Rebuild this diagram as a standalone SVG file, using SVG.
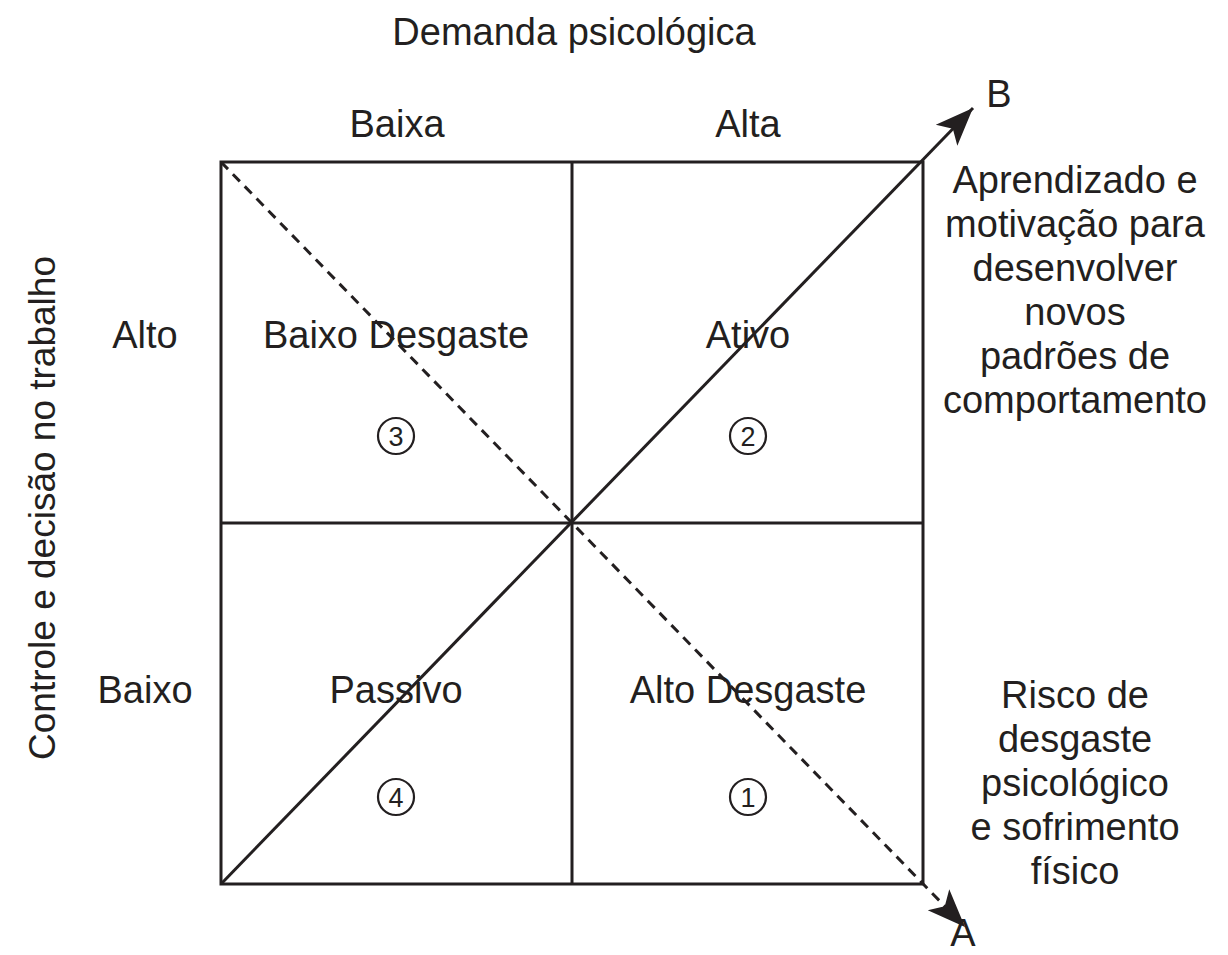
<svg xmlns="http://www.w3.org/2000/svg" width="1228" height="955" viewBox="0 0 1228 955">
<style>
text{font-family:"Liberation Sans",Arial,sans-serif;font-size:38px;fill:#231f20;text-anchor:middle}
.ln{stroke:#231f20;stroke-width:3;fill:none}
.dash{stroke-dasharray:10 7}
.num{font-size:27px}
.vert{font-size:37px}
circle{fill:none;stroke:#231f20;stroke-width:2.2}
</style>
<defs>
<marker id="ah" markerUnits="userSpaceOnUse" markerWidth="40" markerHeight="32" viewBox="0 -16 40 32" refX="38" refY="0" orient="auto">
<path d="M0,-15 L38,0 L0,15 L9,0 Z" fill="#231f20"/>
</marker>
</defs>
<g id="grid">
<rect class="ln" x="221" y="162" width="702" height="722"/>
<line class="ln" x1="572" y1="162" x2="572" y2="884"/>
<line class="ln" x1="221" y1="523" x2="923" y2="523"/>
</g>
<g id="connectors">
<line class="ln" x1="221" y1="884" x2="973" y2="108" marker-end="url(#ah)"/>
<line class="ln dash" x1="221" y1="162" x2="965" y2="927" marker-end="url(#ah)"/>
</g>
<g id="axis-labels">
<text x="574" y="45">Demanda psicológica</text>
<text x="397" y="137">Baixa</text>
<text x="748" y="137">Alta</text>
<text x="145" y="348">Alto</text>
<text x="145" y="703">Baixo</text>
<text class="vert" transform="translate(55,508) rotate(-90)">Controle e decisão no trabalho</text>
<text x="999" y="107">B</text>
<text x="963" y="946">A</text>
</g>
<g id="q3"><text x="396" y="348">Baixo Desgaste</text><circle cx="396" cy="436" r="18"/><text class="num" x="396" y="446">3</text></g>
<g id="q2"><text x="748" y="348">Ativo</text><circle cx="748" cy="436" r="18"/><text class="num" x="748" y="446">2</text></g>
<g id="q4"><text x="396" y="703">Passivo</text><circle cx="396" cy="797" r="18"/><text class="num" x="396" y="807">4</text></g>
<g id="q1"><text x="748" y="703">Alto Desgaste</text><circle cx="748" cy="797" r="18"/><text class="num" x="748" y="807">1</text></g>
<g id="outcome-b">
<text x="1075" y="193">Aprendizado e</text>
<text x="1075" y="237">motivação para</text>
<text x="1075" y="281">desenvolver</text>
<text x="1075" y="325">novos</text>
<text x="1075" y="369">padrões de</text>
<text x="1075" y="413">comportamento</text>
</g>
<g id="outcome-a">
<text x="1075" y="708">Risco de</text>
<text x="1075" y="752">desgaste</text>
<text x="1075" y="796">psicológico</text>
<text x="1075" y="840">e sofrimento</text>
<text x="1075" y="884">físico</text>
</g>
</svg>
